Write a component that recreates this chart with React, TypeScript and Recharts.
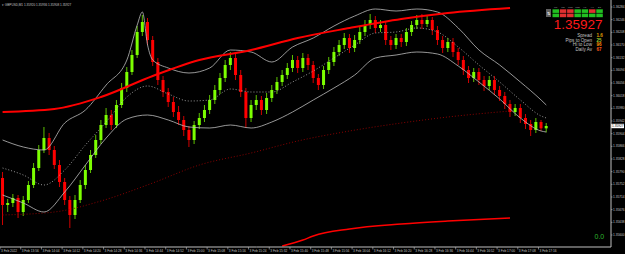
import React from "react";
import { ComposedChart, Bar, Line, XAxis, YAxis, ReferenceLine } from "recharts";

// GBPUSD M1, shown as 2-minute candles
const timeLabels = [
  "3 Feb 2022", "3 Feb 13:56", "3 Feb 14:04", "3 Feb 14:12", "3 Feb 14:20", "3 Feb 14:28",
  "3 Feb 14:36", "3 Feb 14:44", "3 Feb 14:52", "3 Feb 15:00", "3 Feb 15:08", "3 Feb 15:16",
  "3 Feb 15:24", "3 Feb 15:32", "3 Feb 15:40", "3 Feb 15:48", "3 Feb 15:56", "3 Feb 16:04",
  "3 Feb 16:12", "3 Feb 16:20", "3 Feb 16:28", "3 Feb 16:36", "3 Feb 16:44", "3 Feb 16:52",
  "3 Feb 17:00", "3 Feb 17:08", "3 Feb 17:16",
];

const priceTicks = [
  1.36284, 1.36246, 1.36208, 1.3617, 1.36132, 1.36094, 1.36056, 1.36018, 1.3598, 1.35942,
  1.35904, 1.35866, 1.35828, 1.3579, 1.35752, 1.35714, 1.35676, 1.35638, 1.356,
];

const opens = [
  1.35771, 1.3569, 1.35696, 1.35711, 1.35669, 1.35705, 1.3575, 1.35801, 1.35855, 1.35891,
  1.35855, 1.3581, 1.35759, 1.35705, 1.3566, 1.35705, 1.3575, 1.35795, 1.3584, 1.35885,
  1.3593, 1.3596, 1.3593, 1.3599, 1.36041, 1.36089, 1.3614, 1.36209, 1.36239, 1.36185,
  1.36119, 1.36065, 1.36029, 1.35999, 1.35969, 1.35945, 1.35915, 1.35885, 1.3593, 1.35951,
  1.35975, 1.36005, 1.36035, 1.36071, 1.3611, 1.36131, 1.3608, 1.36029, 1.35951, 1.3599,
  1.36005, 1.35975, 1.36011, 1.36035, 1.36059, 1.3608, 1.36101, 1.36125, 1.36101, 1.36131,
  1.3611, 1.36071, 1.3605, 1.36095, 1.36119, 1.36149, 1.3617, 1.36191, 1.36161, 1.36185,
  1.36209, 1.3623, 1.36245, 1.36221, 1.3623, 1.36185, 1.3617, 1.36191, 1.36179, 1.36209,
  1.3623, 1.36245, 1.36233, 1.36245, 1.36215, 1.36185, 1.36161, 1.36179, 1.36149, 1.36125,
  1.36095, 1.36071, 1.36089, 1.36065, 1.36047, 1.36065, 1.36035, 1.36017, 1.35993, 1.35969,
  1.35981, 1.35951, 1.35933, 1.35915, 1.35939, 1.3592,
];

const highs = [
  1.35789, 1.35708, 1.35723, 1.3572, 1.35717, 1.35762, 1.35816, 1.3587, 1.35924, 1.35906,
  1.35867, 1.35825, 1.35771, 1.35717, 1.3572, 1.35765, 1.3581, 1.35855, 1.359, 1.35945,
  1.35981, 1.35975, 1.36005, 1.36056, 1.36104, 1.36155, 1.36227, 1.3626, 1.36251, 1.36197,
  1.36131, 1.36077, 1.36041, 1.36014, 1.35987, 1.35957, 1.35927, 1.35942, 1.35966, 1.3599,
  1.3602, 1.3605, 1.36086, 1.36125, 1.36149, 1.36143, 1.36095, 1.36041, 1.36005, 1.3602,
  1.36017, 1.36026, 1.3605, 1.36074, 1.36095, 1.36116, 1.3614, 1.36137, 1.36146, 1.36143,
  1.36122, 1.36083, 1.36107, 1.36134, 1.36164, 1.36185, 1.36206, 1.36203, 1.362, 1.36224,
  1.36245, 1.36263, 1.36257, 1.36245, 1.36239, 1.36197, 1.36203, 1.36203, 1.36221, 1.36242,
  1.3626, 1.36263, 1.36257, 1.36254, 1.36227, 1.36197, 1.36191, 1.36191, 1.36161, 1.36137,
  1.36107, 1.36101, 1.36101, 1.36077, 1.36077, 1.36077, 1.36047, 1.36029, 1.36005, 1.35993,
  1.35993, 1.35963, 1.35945, 1.35951, 1.35945, 1.35936,
];

const lows = [
  1.3563, 1.35669, 1.35684, 1.35651, 1.35657, 1.35696, 1.35741, 1.35792, 1.35846, 1.3584,
  1.35798, 1.35744, 1.3569, 1.35621, 1.35648, 1.35696, 1.35738, 1.35786, 1.35831, 1.35873,
  1.35921, 1.35915, 1.35921, 1.35981, 1.36029, 1.3608, 1.36131, 1.36197, 1.3617, 1.36107,
  1.3605, 1.36014, 1.35984, 1.35954, 1.3593, 1.35897, 1.35864, 1.35873, 1.35918, 1.35939,
  1.35963, 1.35993, 1.36023, 1.36059, 1.36095, 1.36065, 1.36014, 1.35921, 1.35939, 1.35975,
  1.3596, 1.35963, 1.35999, 1.36023, 1.36047, 1.36068, 1.36089, 1.36086, 1.36089, 1.36095,
  1.36056, 1.36035, 1.36038, 1.36083, 1.36107, 1.36137, 1.36158, 1.36146, 1.36149, 1.36173,
  1.36197, 1.36218, 1.36206, 1.36209, 1.3617, 1.36155, 1.36158, 1.36164, 1.36167, 1.36197,
  1.36218, 1.36218, 1.36224, 1.362, 1.3617, 1.36146, 1.36149, 1.36134, 1.3611, 1.3608,
  1.36056, 1.36059, 1.3605, 1.36032, 1.36035, 1.3602, 1.36002, 1.35978, 1.35954, 1.35957,
  1.35936, 1.35918, 1.35897, 1.35906, 1.35912, 1.35908,
];

const closes = [
  1.3569, 1.35696, 1.35711, 1.35669, 1.35705, 1.3575, 1.35801, 1.35855, 1.35891, 1.35855,
  1.3581, 1.35759, 1.35705, 1.3566, 1.35705, 1.3575, 1.35795, 1.3584, 1.35885, 1.3593,
  1.3596, 1.3593, 1.3599, 1.36041, 1.36089, 1.3614, 1.36209, 1.36239, 1.36185, 1.36119,
  1.36065, 1.36029, 1.35999, 1.35969, 1.35945, 1.35915, 1.35885, 1.3593, 1.35951, 1.35975,
  1.36005, 1.36035, 1.36071, 1.3611, 1.36131, 1.3608, 1.36029, 1.35951, 1.3599, 1.36005,
  1.35975, 1.36011, 1.36035, 1.36059, 1.3608, 1.36101, 1.36125, 1.36101, 1.36131, 1.3611,
  1.36071, 1.3605, 1.36095, 1.36119, 1.36149, 1.3617, 1.36191, 1.36161, 1.36185, 1.36209,
  1.3623, 1.36245, 1.36221, 1.3623, 1.36185, 1.3617, 1.36191, 1.36179, 1.36209, 1.3623,
  1.36245, 1.36233, 1.36245, 1.36215, 1.36185, 1.36161, 1.36179, 1.36149, 1.36125, 1.36095,
  1.36071, 1.36089, 1.36065, 1.36047, 1.36065, 1.36035, 1.36017, 1.35993, 1.35969, 1.35981,
  1.35951, 1.35933, 1.35915, 1.35939, 1.3592, 1.35927,
];

// [slot, price] readings of the indicator lines
const bandUpper = [
  [0, 1.35885], [4, 1.35864], [8, 1.35855], [12, 1.35936], [16, 1.35975], [20, 1.3605],
  [24, 1.36125], [26, 1.3623], [27, 1.36269], [28, 1.3617], [29, 1.36125], [32, 1.36101],
  [36, 1.36086], [40, 1.36101], [44, 1.36155], [48, 1.36149], [52, 1.36119], [56, 1.36164],
  [60, 1.36191], [64, 1.36227], [68, 1.36257], [72, 1.36278], [76, 1.36272], [80, 1.36278],
  [84, 1.36269], [88, 1.36221], [92, 1.36155], [96, 1.3611], [100, 1.36059], [104, 1.36005],
  [105, 1.3599],
];
const bandMid = [
  [0, 1.35801], [4, 1.3578], [8, 1.3575], [12, 1.35795], [16, 1.3587], [20, 1.35939],
  [24, 1.36014], [28, 1.36047], [32, 1.36023], [36, 1.36002], [40, 1.36005], [44, 1.36038],
  [48, 1.36029], [52, 1.36029], [56, 1.36059], [60, 1.36092], [64, 1.36131], [68, 1.3617],
  [72, 1.36206], [76, 1.36209], [80, 1.36221], [84, 1.36209], [88, 1.36164], [92, 1.3611],
  [96, 1.36059], [100, 1.36005], [104, 1.35957], [105, 1.35951],
];
const bandLower = [
  [0, 1.3572], [4, 1.35696], [8, 1.35669], [12, 1.35729], [16, 1.3581], [20, 1.35891],
  [24, 1.35948], [28, 1.3596], [32, 1.35945], [36, 1.35924], [40, 1.35921], [44, 1.3593],
  [48, 1.35921], [52, 1.35939], [56, 1.35969], [60, 1.36005], [64, 1.36041], [68, 1.3608],
  [72, 1.36131], [76, 1.3614], [80, 1.36149], [84, 1.36143], [88, 1.36107], [92, 1.36059],
  [96, 1.36008], [100, 1.35951], [104, 1.35912], [105, 1.35909],
];
const envTop = [
  [0, 1.35969], [10, 1.35978], [19, 1.36014], [29, 1.36077], [38, 1.36125], [48, 1.36155],
  [57, 1.36191], [67, 1.36221], [77, 1.36248], [86, 1.36266], [98, 1.36281],
];
const envMid = [
  [0, 1.3566], [10, 1.35669], [19, 1.35702], [29, 1.35756], [38, 1.3581], [48, 1.35846],
  [57, 1.35882], [67, 1.35912], [77, 1.35936], [86, 1.35954], [98, 1.35972],
];
const envBottom = [
  [54, 1.35567], [58, 1.35585], [60, 1.35597], [67, 1.35618], [77, 1.35633], [86, 1.35642],
  [98, 1.35651],
];

const periods = ["M1", "M5", "M15", "M30", "H1", "H4", "D1"];
const trendRow1 = ["up", "down", "down", "up", "up", "down", "up"];
const trendRow2 = ["up", "down", "down", "up", "up", "up", "up"];
const stats = [
  { label: "Spread", value: "1.6", color: "#e0a000" },
  { label: "Pips to Open", value: "25", color: "#9acd32" },
  { label: "Hi to Low", value: "96", color: "#ff8c00" },
  { label: "Daily Av", value: "67", color: "#ff5a1a" },
];

const SLOTS = 118;
const W = 625;
const H = 254;
const PLOT_W = 611;
const SLOT_W = PLOT_W / SLOTS;
const GREY = "#c0c0c0";
const FONT = "'Liberation Sans', Arial, sans-serif";

const lookup = (pairs: number[][], slot: number) => {
  const hit = pairs.find((p) => p[0] === slot);
  return hit ? hit[1] : null;
};

const rows = Array.from({ length: SLOTS }, (_, slot) => {
  const has = slot < closes.length;
  return {
    slot,
    open: has ? opens[slot] : null,
    high: has ? highs[slot] : null,
    low: has ? lows[slot] : null,
    close: has ? closes[slot] : null,
    range: has ? [lows[slot], highs[slot]] : null,
    upper: lookup(bandUpper, slot),
    mid: lookup(bandMid, slot),
    lower: lookup(bandLower, slot),
    eTop: lookup(envTop, slot),
    eMid: lookup(envMid, slot),
    eBot: lookup(envBottom, slot),
  };
});

const Candle = (props: any) => {
  const { x, y, width, height, payload } = props;
  if (!payload || payload.close == null) return null;
  const { open, close, high, low } = payload;
  const top = Math.min(y, y + height);
  const h = Math.abs(height);
  const k = high - low > 0 ? h / (high - low) : 0;
  const py = (v: number) => top + (high - v) * k;
  const up = close >= open;
  const body = up ? "#7cff00" : "#ff0000";
  const wick = up ? "#5cc000" : "#d00000";
  const cx = x + width / 2;
  const b1 = py(Math.max(open, close));
  const b2 = py(Math.min(open, close));
  return (
    <g>
      <line x1={cx} x2={cx} y1={top} y2={top + h} stroke={wick} strokeWidth={1} />
      <rect x={cx - 1.5} y={b1} width={3} height={Math.max(b2 - b1, 1)} fill={body} />
    </g>
  );
};

const TimeTick = (props: any) => {
  const { x, y, payload } = props;
  const left = x - SLOT_W / 2;
  return (
    <g>
      <line x1={left} x2={left} y1={y} y2={y + 2.5} stroke={GREY} strokeWidth={0.6} />
      <text x={left + 1} y={y + 5} fontSize={3.2} fill={GREY} fontFamily={FONT}>
        {timeLabels[payload.value / 4]}
      </text>
    </g>
  );
};

const PriceTick = (props: any) => {
  const { x, y, payload } = props;
  return (
    <g>
      <line x1={x} x2={x + 1.5} y1={y} y2={y} stroke={GREY} strokeWidth={0.6} />
      <text x={x + 2} y={y + 1.1} fontSize={3.2} fill={GREY} fontFamily={FONT}>
        {payload.value.toFixed(5)}
      </text>
    </g>
  );
};

const PriceTag = (props: any) => {
  const vb = props.viewBox || {};
  const x = vb.x + vb.width;
  const y = vb.y;
  return (
    <g>
      <rect x={x} y={y - 2.2} width={13} height={4.4} fill="#ffffff" />
      <text x={x + 1} y={y + 1.1} fontSize={3.2} fill="#000" fontFamily={FONT}>
        {closes[closes.length - 1].toFixed(5)}
      </text>
    </g>
  );
};

const colorOf = (t: string) => (t === "up" ? "#22c022" : "#e03030");

const lineProps = {
  type: "monotone" as const,
  dot: false,
  activeDot: false,
  connectNulls: true,
  isAnimationActive: false,
};

export default function App() {
  const last = closes.length - 1;
  return (
    <div style={{ position: "relative", width: W, height: H, background: "#000" }}>
      <style>{"body{margin:0;background:#000}"}</style>
      <ComposedChart
        width={W}
        height={H}
        data={rows}
        margin={{ top: 0, right: 0, left: 0, bottom: 0 }}
        barCategoryGap="10%"
      >
        <XAxis
          dataKey="slot"
          type="category"
          ticks={timeLabels.map((_, i) => i * 4)}
          interval={0}
          height={7}
          tickSize={0}
          tickMargin={0}
          tickLine={false}
          axisLine={{ stroke: GREY, strokeWidth: 1 }}
          tick={<TimeTick />}
        />
        <YAxis
          orientation="right"
          width={14}
          domain={[1.35564, 1.36305]}
          allowDataOverflow
          ticks={priceTicks}
          interval={0}
          tickSize={0}
          tickMargin={0}
          tickLine={false}
          axisLine={{ stroke: GREY, strokeWidth: 1 }}
          tick={<PriceTick />}
        />
        <Line dataKey="eMid" stroke="#8b0000" strokeWidth={1} strokeDasharray="1 2" {...lineProps} />
        <Line dataKey="eBot" stroke="#ff0000" strokeWidth={1.5} {...lineProps} />
        <Line dataKey="upper" stroke="#bdbdbd" strokeWidth={0.8} {...lineProps} />
        <Line dataKey="lower" stroke="#bdbdbd" strokeWidth={0.8} {...lineProps} />
        <Line dataKey="mid" stroke="#bdbdbd" strokeWidth={0.8} strokeDasharray="1 2" {...lineProps} />
        <Bar dataKey="range" shape={<Candle />} isAnimationActive={false} />
        <Line dataKey="eTop" stroke="#ff0000" strokeWidth={2} {...lineProps} />
        <ReferenceLine y={closes[last]} stroke="transparent" label={<PriceTag />} />
      </ComposedChart>

      <svg width={W} height={H} style={{ position: "absolute", left: 0, top: 0, pointerEvents: "none" }}>
        <text x={2} y={5.5} fontSize={3.1} fill={GREY} fontFamily={FONT}>
          {"▾ GBPUSD,M1  " + [opens[last], highs[last], lows[last], closes[last]].map((v) => v.toFixed(5)).join(" ")}
        </text>

        <rect x={546} y={9} width={5} height={8} fill="#606060" />
        <text x={546.5} y={15} fontSize={4} fill="#fff" fontFamily={FONT}>⇅</text>
        {periods.map((p, i) => (
          <g key={p}>
            <text x={555.7 + i * 7.3} y={7.8} fontSize={2.4} fill="#a0a0a0" textAnchor="middle" fontFamily={FONT}>
              {p}
            </text>
            <rect x={552.5 + i * 7.3} y={9.3} width={6.5} height={3.6} fill={colorOf(trendRow1[i])} />
            <rect x={552.5 + i * 7.3} y={13.6} width={6.5} height={3.6} fill={colorOf(trendRow2[i])} />
          </g>
        ))}
        <text x={602.5} y={28.8} fontSize={13.5} fill="#ff1a1a" textAnchor="end" fontFamily={FONT}>
          {closes[last].toFixed(5)}
        </text>
        {stats.map((s, i) => (
          <g key={s.label}>
            <text x={592} y={37 + i * 4.6} fontSize={4.6} fill={GREY} textAnchor="end" fontFamily={FONT}>
              {s.label}
            </text>
            <text x={596.5} y={37 + i * 4.6} fontSize={4.6} fill={s.color} fontFamily={FONT} fontWeight="bold">
              {s.value}
            </text>
          </g>
        ))}
        <text x={594.5} y={238.5} fontSize={7} fill="#2db52d" fontFamily={FONT}>
          0.0
        </text>
      </svg>
    </div>
  );
}
